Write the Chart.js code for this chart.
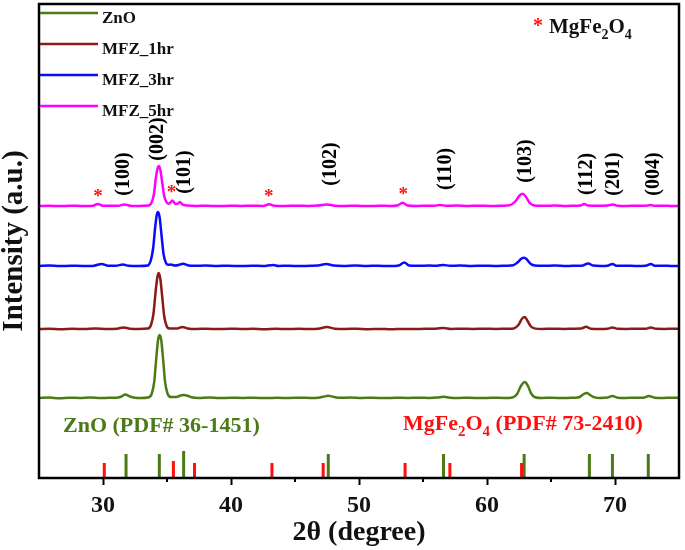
<!DOCTYPE html>
<html>
<head>
<meta charset="utf-8">
<script src="https://cdn.jsdelivr.net/npm/chart.js@4.4.0/dist/chart.umd.min.js"></script>
<style>
  html, body { margin: 0; padding: 0; background: #fff; }
</style>
</head>
<body>
<canvas id="xrdChart" width="685" height="550"></canvas>
<script>
// 2θ (degree), intensity (a.u.)
const znoPattern = [
  [25,0],[25.8,0.4],[26.6,-0.2],[27.4,0.3],[28.2,0],[29,0.4],[29.8,-0.1],[30.5,0.3],[31,0.2],[31.4,1.2],[31.75,3.4],
  [32.1,1.5],[32.5,0.3],[33,0],[33.5,0.5],[33.8,4],[34.0,16],[34.15,38],[34.3,58],[34.42,63],[34.55,58],[34.7,38],
  [34.85,16],[35.05,4],[35.3,1],[35.7,0.9],[36.0,2.3],[36.3,2.9],[36.6,2.3],[36.9,0.7],[37.5,0],[38.3,0.4],[39.1,-0.1],
  [40,0.3],[40.9,0],[41.8,0.3],[42.7,-0.1],[43.6,0.2],[44.5,0],[45.4,0.3],[46.2,0],[46.8,0.3],[47.2,1.2],[47.6,2.2],
  [48.0,1.2],[48.5,0.2],[49.3,0.4],[50.2,0],[51.1,0.3],[52,-0.1],[52.9,0.3],[53.8,0],[54.7,0.3],[55.5,0],[56.1,0.4],
  [56.6,1.3],[57.1,0.3],[57.8,0],[58.6,0.3],[59.5,-0.1],[60.4,0.3],[61.3,0],[62.0,0.6],[62.35,4],[62.65,12],
  [62.95,16],[63.2,12],[63.45,4.5],[63.75,0.8],[64.3,0],[65.1,0.3],[66,-0.1],[66.8,0.3],[67.2,0.8],[67.5,3.5],
  [67.8,5],[68.05,3],[68.4,0.6],[68.9,0],[69.4,0.4],[69.8,1.9],[70.2,0.3],[70.8,0],[71.6,0.3],[72.2,0.2],[72.65,1.9],
  [73.1,0.3],[73.8,0],[74.4,0.3],[75,0.1]
];
const mfz1Pattern = [
  [25,0],[25.8,0.3],[26.7,-0.2],[27.6,0.2],[28.5,0],[29.4,0.4],[30.3,0],[31.1,0.3],[31.6,1.6],[32.1,0.3],[32.8,0],
  [33.5,0.4],[33.75,4],[33.95,16],[34.1,36],[34.25,52],[34.35,56],[34.47,51],[34.62,33],[34.78,13],[34.97,3],
  [35.2,0.5],[35.8,0.5],[36.2,2.1],[36.6,0.6],[37.3,0],[38.1,0.3],[39,-0.1],[39.9,0.3],[40.8,0],[41.7,0.2],
  [42.6,-0.2],[43.5,0.2],[44.4,-0.1],[45.3,0.2],[46.2,0],[46.8,0.3],[47.5,1.9],[48.1,0.3],[48.9,0],[49.8,0.3],
  [50.7,-0.2],[51.6,0.1],[52.5,-0.3],[53.4,0.1],[54.3,-0.1],[55.2,0.2],[56,0.2],[56.6,1.1],[57.2,0.1],[58,0.3],
  [58.9,0],[59.8,0.3],[60.7,0],[61.5,0.3],[62.1,0.6],[62.45,4],[62.75,10.5],[62.95,12],[63.15,8.5],[63.4,3],
  [63.7,0.6],[64.3,0],[65.1,0.3],[66,0],[66.8,0.3],[67.35,0.4],[67.75,2.3],[68.1,0.3],[68.8,0.1],[69.4,0.3],
  [69.8,1.6],[70.2,0.2],[70.9,0.1],[71.7,0.3],[72.4,0.2],[72.8,1.6],[73.2,0.2],[73.9,0.1],[74.5,0.3],[75,0.2]
];
const mfz3Pattern = [
  [25,0],[25.8,0.4],[26.6,-0.1],[27.5,0.3],[28.4,0],[29.3,0.3],[29.9,2.1],[30.4,0.3],[31,0.2],[31.55,1.6],[32,0.2],
  [32.8,0],[33.5,0.5],[33.72,5],[33.92,18],[34.07,38],[34.2,51],[34.3,54],[34.42,49],[34.57,31],[34.73,12],
  [34.92,3],[35.1,1.2],[35.3,1.5],[35.6,0.5],[35.9,1],[36.25,2.3],[36.6,0.8],[37.2,0.2],[38,0.4],[38.9,0],
  [39.8,0.3],[40.7,-0.1],[41.6,0.3],[42.5,0],[43.3,1.1],[43.7,0],[44.5,0.3],[45.4,-0.1],[46.2,0.3],[46.8,0.5],
  [47.45,2.1],[48,0.4],[48.8,0],[49.7,0.4],[50.6,0],[51.5,0.3],[52.4,-0.1],[53.1,0.5],[53.55,3.6],[53.9,0.5],
  [54.6,0.2],[55.5,0.4],[56.1,0.3],[56.6,1.1],[57.1,0.2],[57.9,0.4],[58.8,0],[59.7,0.3],[60.6,0],[61.5,0.3],
  [62.05,0.8],[62.4,3.8],[62.7,7.5],[62.9,8.2],[63.1,6.8],[63.4,2.3],[63.75,0.5],[64.4,0.2],[65.3,0.4],[66.2,0],
  [67,0.3],[67.5,0.6],[67.9,2.6],[68.3,0.4],[68.9,0.1],[69.4,0.3],[69.8,2.1],[70.1,0.2],[70.8,0.3],[71.6,0],
  [72.4,0.3],[72.8,2.1],[73.1,0.2],[73.8,0.3],[74.4,0],[75,0.1]
];
const mfz5Pattern = [
  [25,0],[25.8,0.3],[26.6,-0.1],[27.4,0.3],[28.3,0],[29.2,0.3],[29.6,2.1],[30,0.2],[30.7,0.3],[31.2,0.2],
  [31.65,1.6],[32.1,0.3],[32.8,0],[33.55,0.4],[33.78,3],[33.98,12],[34.12,27],[34.25,37],[34.36,40],[34.48,36],
  [34.62,24],[34.78,10],[34.95,4],[35.1,2.2],[35.25,3.2],[35.42,5.6],[35.6,2.6],[35.8,2.1],[36.0,3.9],[36.2,1.6],
  [36.6,0.4],[37.3,0],[38.1,0.3],[39,-0.1],[39.9,0.3],[40.8,0],[41.7,0.3],[42.5,0],[43.0,1.7],[43.4,0.2],
  [44.2,0],[45.1,0.3],[46,0],[46.8,0.4],[47.5,1.6],[48.1,0.3],[48.9,0],[49.8,0.3],[50.7,-0.1],[51.6,0.3],
  [52.4,0],[53,0.5],[53.4,3.3],[53.8,0.5],[54.5,0],[55.4,0.3],[55.9,0.2],[56.3,1.1],[56.8,0.2],[57.6,0.4],
  [58.5,0],[59.4,0.3],[60.3,0],[61.2,0.3],[61.8,0.9],[62.2,4.5],[62.55,10.5],[62.8,12.2],[63.05,9],[63.35,3],
  [63.7,0.5],[64.4,0.2],[65.3,0.4],[66.2,0],[67,0.3],[67.3,0.4],[67.6,2.1],[67.9,0.4],[68.7,0.2],[69.4,0.4],
  [69.85,1.6],[70.2,0.3],[70.9,0],[71.7,0.3],[72.4,0.2],[72.75,1.1],[73.1,0.2],[73.8,0.3],[74.4,0],[75,0.1]
];

// reference patterns (stick positions and heights)
const znoRefPos = [31.8, 34.4, 36.3, 47.6, 56.6, 62.9, 68.0, 69.8, 72.6];
const znoRefInt = [24, 24, 27, 24, 24, 24, 24, 24, 24];
const mgfRefPos = [30.1, 35.5, 37.15, 43.2, 47.2, 53.6, 57.1, 62.7];
const mgfRefInt = [15, 17, 15, 15, 15, 15, 15, 15];

// hkl labels of ZnO and spinel peaks marked with *
const hklLabels = ['(100)', '(002)', '(101)', '(102)', '(110)', '(103)', '(112)', '(201)', '(004)'];
const hklPos = [31.6, 34.3, 36.4, 47.8, 56.8, 63.05, 67.8, 69.9, 73.0];
const hklY = [304, 339, 306, 314, 309, 317, 304, 304, 304];
const starPos = [29.6, 35.35, 42.95, 53.45];
const starY = [286, 290, 286, 288];

const seriesNames = ['ZnO', 'MFZ_1hr', 'MFZ_3hr', 'MFZ_5hr'];
const xTicks = [30, 40, 50, 60, 70];

// vertical stacking of the patterns and colours
const offsets = [80, 149, 212, 272];
const colors = ['#4b7a17', '#8b1a1a', '#0a0aff', '#ff00ff'];
const red = '#ff1010';
const serif = "'Liberation Serif', 'Times New Roman', serif";

const patterns = [znoPattern, mfz1Pattern, mfz3Pattern, mfz5Pattern];

const datasets = patterns.map((p, i) => ({
  label: seriesNames[i],
  data: p.map(([x, y]) => ({ x: x, y: y + offsets[i] })),
  borderColor: colors[i],
  borderWidth: 2.5,
  pointRadius: 0,
  cubicInterpolationMode: 'monotone',
  fill: false
}));

function sticks(pos, h) {
  const pts = [];
  pos.forEach((p, i) => {
    pts.push({ x: p, y: 0 }, { x: p, y: h[i] }, { x: p, y: null });
  });
  return pts;
}
datasets.push({ label: 'MgFe2O4 ref', data: sticks(mgfRefPos, mgfRefInt), borderColor: red, borderWidth: 3, pointRadius: 0, spanGaps: false, isRef: true });
datasets.push({ label: 'ZnO ref', data: sticks(znoRefPos, znoRefInt), borderColor: colors[0], borderWidth: 3, pointRadius: 0, spanGaps: false, isRef: true });

function drawFormula(ctx, parts, x, y, size, color) {
  ctx.fillStyle = color;
  ctx.textAlign = 'left';
  ctx.textBaseline = 'alphabetic';
  let cx = x;
  parts.forEach(([t, sub]) => {
    const s = sub ? Math.round(size * 0.68) : size;
    ctx.font = 'bold ' + s + 'px ' + serif;
    ctx.fillText(t, cx, sub ? y + size * 0.28 : y);
    cx += ctx.measureText(t).width;
  });
}

const decorPlugin = {
  id: 'decor',
  afterDatasetsDraw(chart) {
    const ctx = chart.ctx;
    const a = chart.chartArea;
    const xs = chart.scales.x, ys = chart.scales.y;
    ctx.save();

    // frame
    ctx.strokeStyle = '#000';
    ctx.lineWidth = 2.5;
    ctx.strokeRect(a.left, a.top, a.right - a.left, a.bottom - a.top);

    // minor ticks
    ctx.lineWidth = 2;
    [35, 45, 55, 65].forEach(v => {
      const px = xs.getPixelForValue(v);
      ctx.beginPath();
      ctx.moveTo(px, a.bottom);
      ctx.lineTo(px, a.bottom + 4);
      ctx.stroke();
    });

    // hkl labels
    ctx.fillStyle = '#000';
    ctx.font = 'bold 20px ' + serif;
    ctx.textAlign = 'center';
    ctx.textBaseline = 'middle';
    hklLabels.forEach((t, i) => {
      ctx.save();
      ctx.translate(xs.getPixelForValue(hklPos[i]), ys.getPixelForValue(hklY[i]));
      ctx.rotate(-Math.PI / 2);
      ctx.fillText(t, 0, 0);
      ctx.restore();
    });

    // spinel markers
    ctx.fillStyle = red;
    ctx.font = 'bold 19px ' + serif;
    ctx.textBaseline = 'alphabetic';
    starPos.forEach((p, i) => {
      ctx.fillText('*', xs.getPixelForValue(p), ys.getPixelForValue(starY[i]) + 10);
    });

    // legend
    chart.data.datasets.forEach((d, i) => {
      if (d.isRef) return;
      const ly = a.top + 9 + i * 31;
      ctx.strokeStyle = d.borderColor;
      ctx.lineWidth = 2.5;
      ctx.beginPath();
      ctx.moveTo(a.left + 1, ly);
      ctx.lineTo(a.left + 59, ly);
      ctx.stroke();
      ctx.fillStyle = '#111';
      ctx.font = 'bold 17px ' + serif;
      ctx.textAlign = 'left';
      ctx.fillText(d.label, a.left + 63, ly + 10);
    });

    // phase labels
    ctx.fillStyle = red;
    ctx.font = 'bold 20px ' + serif;
    ctx.fillText('*', 533, 32);
    drawFormula(ctx, [['MgFe', 0], ['2', 1], ['O', 0], ['4', 1]], 549, 33, 21, '#111');
    drawFormula(ctx, [['ZnO (PDF# 36-1451)', 0]], 63, 432, 22, colors[0]);
    drawFormula(ctx, [['MgFe', 0], ['2', 1], ['O', 0], ['4', 1], [' (PDF# 73-2410)', 0]], 403, 430, 22, red);

    ctx.restore();
  }
};

const ctx = document.getElementById('xrdChart').getContext('2d');
const xrdChart = new Chart(ctx, {
  type: 'line',
  data: { datasets: datasets },
  options: {
    responsive: false,
    animation: false,
    layout: { padding: { top: 4, right: 6, left: 0, bottom: 0 } },
    plugins: {
      legend: { display: false },
      tooltip: { enabled: false }
    },
    scales: {
      x: {
        type: 'linear',
        min: 25,
        max: 75,
        afterFit: s => { s.height = 72; },
        afterBuildTicks: s => { s.ticks = [25, 75].concat(xTicks).sort((a, b) => a - b).map(v => ({ value: v })); },
        ticks: {
          callback: v => (xTicks.includes(v) ? v : ''),
          color: '#111',
          font: { family: serif, size: 24, weight: 'bold' },
          padding: 6,
          maxRotation: 0,
          autoSkip: false
        },
        grid: {
          drawOnChartArea: false,
          tickLength: 7,
          tickWidth: 2,
          tickColor: c => (c.tick && xTicks.includes(c.tick.value) ? '#000' : 'rgba(0,0,0,0)')
        },
        border: { display: false },
        title: {
          display: true,
          text: '2θ (degree)',
          color: '#111',
          font: { family: serif, size: 28, weight: 'bold' },
          padding: { top: 0, bottom: 0 }
        }
      },
      y: {
        min: 0,
        max: 474,
        afterFit: s => { s.width = 39; },
        ticks: { display: false },
        grid: { display: false },
        border: { display: false },
        title: {
          display: true,
          text: 'Intensity (a.u.)',
          color: '#111',
          font: { family: serif, size: 29, weight: 'bold', lineHeight: 1 },
          padding: { top: 0, bottom: 0 }
        }
      }
    }
  },
  plugins: [decorPlugin]
});
</script>
</body>
</html>
